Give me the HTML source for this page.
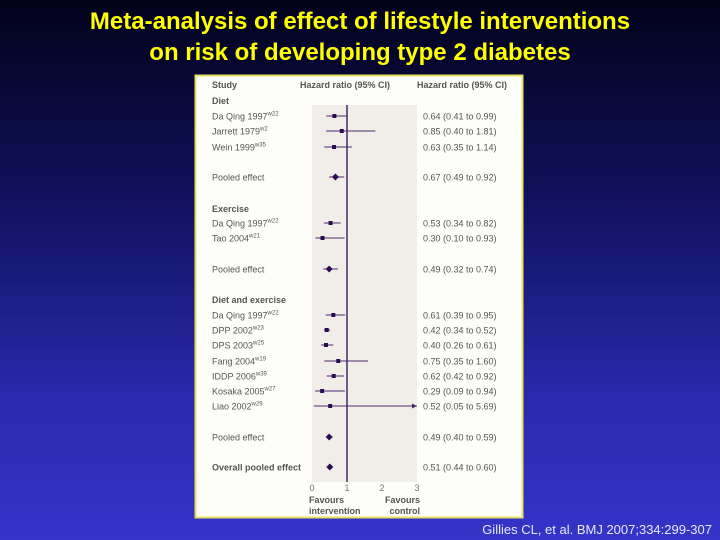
<!DOCTYPE html>
<html><head><meta charset="utf-8"><style>
body{margin:0;width:720px;height:540px;overflow:hidden;background:linear-gradient(#02021a 0%,#10105a 35%,#2a2ab0 75%,#3434c8 100%);font-family:"Liberation Sans",sans-serif;position:relative}
#title{position:absolute;left:0;top:6px;width:720px;text-align:center;color:#ffff00;font-weight:bold;font-size:24px;line-height:31px}
#cite{position:absolute;right:8px;top:522px;color:#e8e8ff;font-size:13px}
svg{position:absolute;left:0;top:0}
</style></head><body>
<div id="title">Meta-analysis of effect of lifestyle interventions<br>on risk of developing type 2 diabetes</div>
<div id="cite">Gillies CL, et al. BMJ 2007;334:299-307</div>
<svg id="c" width="720" height="540"></svg>
<script>
const labels=["Da Qing 1997|w22","Jarrett 1979|w2","Wein 1999|w35","Pooled effect","Da Qing 1997|w22","Tao 2004|w21","Pooled effect","Da Qing 1997|w22","DPP 2002|w23","DPS 2003|w25","Fang 2004|w19","IDDP 2006|w39","Kosaka 2005|w27","Liao 2002|w29","Pooled effect","Overall pooled effect"];
const hr=[0.64,0.85,0.63,0.67,0.53,0.30,0.49,0.61,0.42,0.40,0.75,0.62,0.29,0.52,0.49,0.51];
const lo=[0.41,0.40,0.35,0.49,0.34,0.10,0.32,0.39,0.34,0.26,0.35,0.42,0.09,0.05,0.40,0.44];
const hi=[0.99,1.81,1.14,0.92,0.82,0.93,0.74,0.95,0.52,0.61,1.60,0.92,0.94,5.69,0.59,0.60];
const kinds=["s","s","s","p","s","s","p","s","s","s","s","s","s","s","p","o"];
const rowY=[116,131,147,177,223,238,269,315,330,345,361,376,391,406,437,467];
const groups=["Diet","Exercise","Diet and exercise"];
const groupY=[100,208,299];
const ticks=[0,1,2,3];
const S="http://www.w3.org/2000/svg",svg=document.getElementById('c');
const x=v=>312+35*v;
const xMax=3;
function el(t,a,p){const e=document.createElementNS(S,t);for(const k in a)e.setAttribute(k,a[k]);(p||svg).appendChild(e);return e;}
const panel=el('rect',{x:195.5,y:75.5,width:327,height:442,fill:'#fdfdf9',stroke:'#e8e060','stroke-width':2});


const shade=el('rect',{x:x(0),y:105,width:x(3)-x(0),height:377,fill:'#f1eeea'});


const vl=el('line',{x1:x(1),x2:x(1),y1:105,y2:482,stroke:'#2a0a50','stroke-width':1.3});


function txt(s,xx,yy,o){const t=el('text',Object.assign({x:xx,y:yy,'font-size':9,fill:'#555','font-family':'"Liberation Sans",sans-serif'},o||{}));t.textContent=s;return t;}
let h=txt('Study',212,88,{'font-weight':'bold'});
h=txt('Hazard ratio (95% CI)',300,88,{'font-weight':'bold'});
h=txt('Hazard ratio (95% CI)',417,88,{'font-weight':'bold'});
groups.forEach((g,i)=>{const t=txt(g,212,groupY[i]+4,{'font-weight':'bold'});

});
const f=v=>v.toFixed(2);
labels.forEach((l,i)=>{
 const y=rowY[i],[nm,sup]=l.split('|');
 const t=txt(nm,212,y+3.5,kinds[i]=='o'?{'font-weight':'bold'}:{});
 
 
 if(sup){const ts=el('tspan',{'font-size':6,dy:-4},t);ts.textContent=sup;}
 const c=txt(f(hr[i])+' ('+f(lo[i])+' to '+f(hi[i])+')',423,y+3.5);
 
 
 const x2=Math.min(x(hi[i]),x(xMax));
 const ln=el('line',{x1:x(lo[i]),x2:x2,y1:y,y2:y,stroke:'#4a2a6a','stroke-width':1});
 
 
 if(hi[i]>xMax){const a=el('path',{d:`M${x2} ${y}l-5 -2.5v5z`,fill:'#4a2a6a'});}
 let m;
 if(kinds[i]=='s'){m=el('rect',{x:x(hr[i])-2,y:y-2,width:4,height:4,fill:'#2a0a50'});}
 else{const cx=x(hr[i]);m=el('path',{d:`M${cx-3.5} ${y}L${cx} ${y-3.5}L${cx+3.5} ${y}L${cx} ${y+3.5}Z`,fill:'#2a0a50'});}
 
 
});
ticks.forEach(v=>{const t=txt(String(v),x(v),491,{'text-anchor':'middle',fill:'#777'});

});
[['Favours',309,503],['intervention',309,514]].forEach(a=>{const t=txt(a[0],a[1],a[2],{'font-weight':'bold'});});
[['Favours',420,503],['control',420,514]].forEach(a=>{const t=txt(a[0],a[1],a[2],{'font-weight':'bold','text-anchor':'end'});});
</script>
</body></html>
